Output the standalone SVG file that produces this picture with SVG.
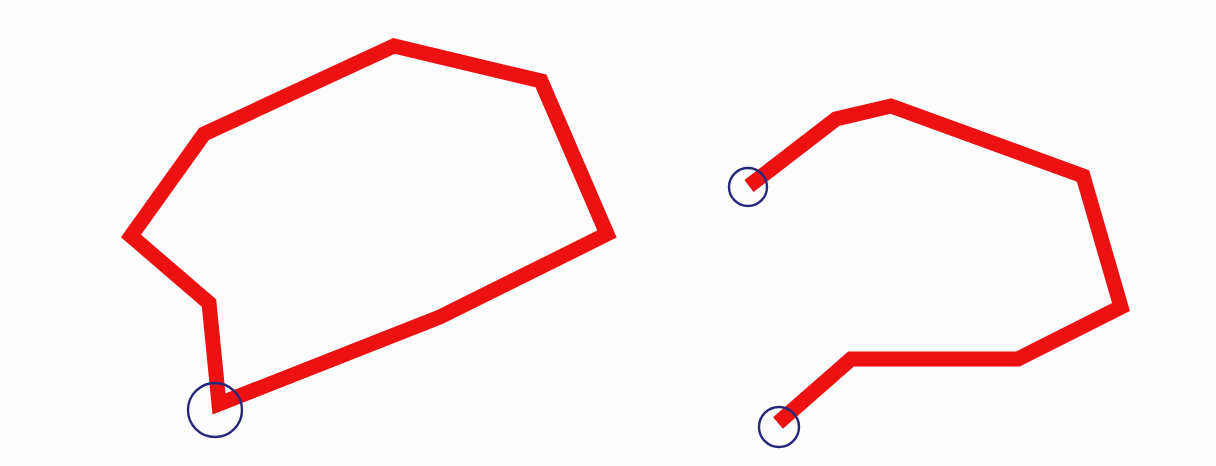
<svg xmlns="http://www.w3.org/2000/svg" width="1216" height="466" viewBox="0 0 1216 466">
<style>
.path{fill:none;stroke:#ee1111;stroke-width:15;stroke-linejoin:miter;stroke-linecap:butt}
.mark{fill:none;stroke:#26287a;stroke-width:2.4}
</style>
<rect width="1216" height="466" fill="#fdfdfd"/>
<g id="left-shape">
<polygon class="path" points="219,404 209,303 131,236 204,134 394,46 541,81 607,234 440,317"/>
<circle class="mark" cx="215" cy="410" r="27"/>
</g>
<g id="right-shape">
<polyline class="path" points="749,186 836,119 891,106 1083,176 1121,307 1018,359 851,359 778,423"/>
<circle class="mark" cx="748" cy="187" r="19"/>
<circle class="mark" cx="779" cy="427" r="20"/>
</g>
</svg>
